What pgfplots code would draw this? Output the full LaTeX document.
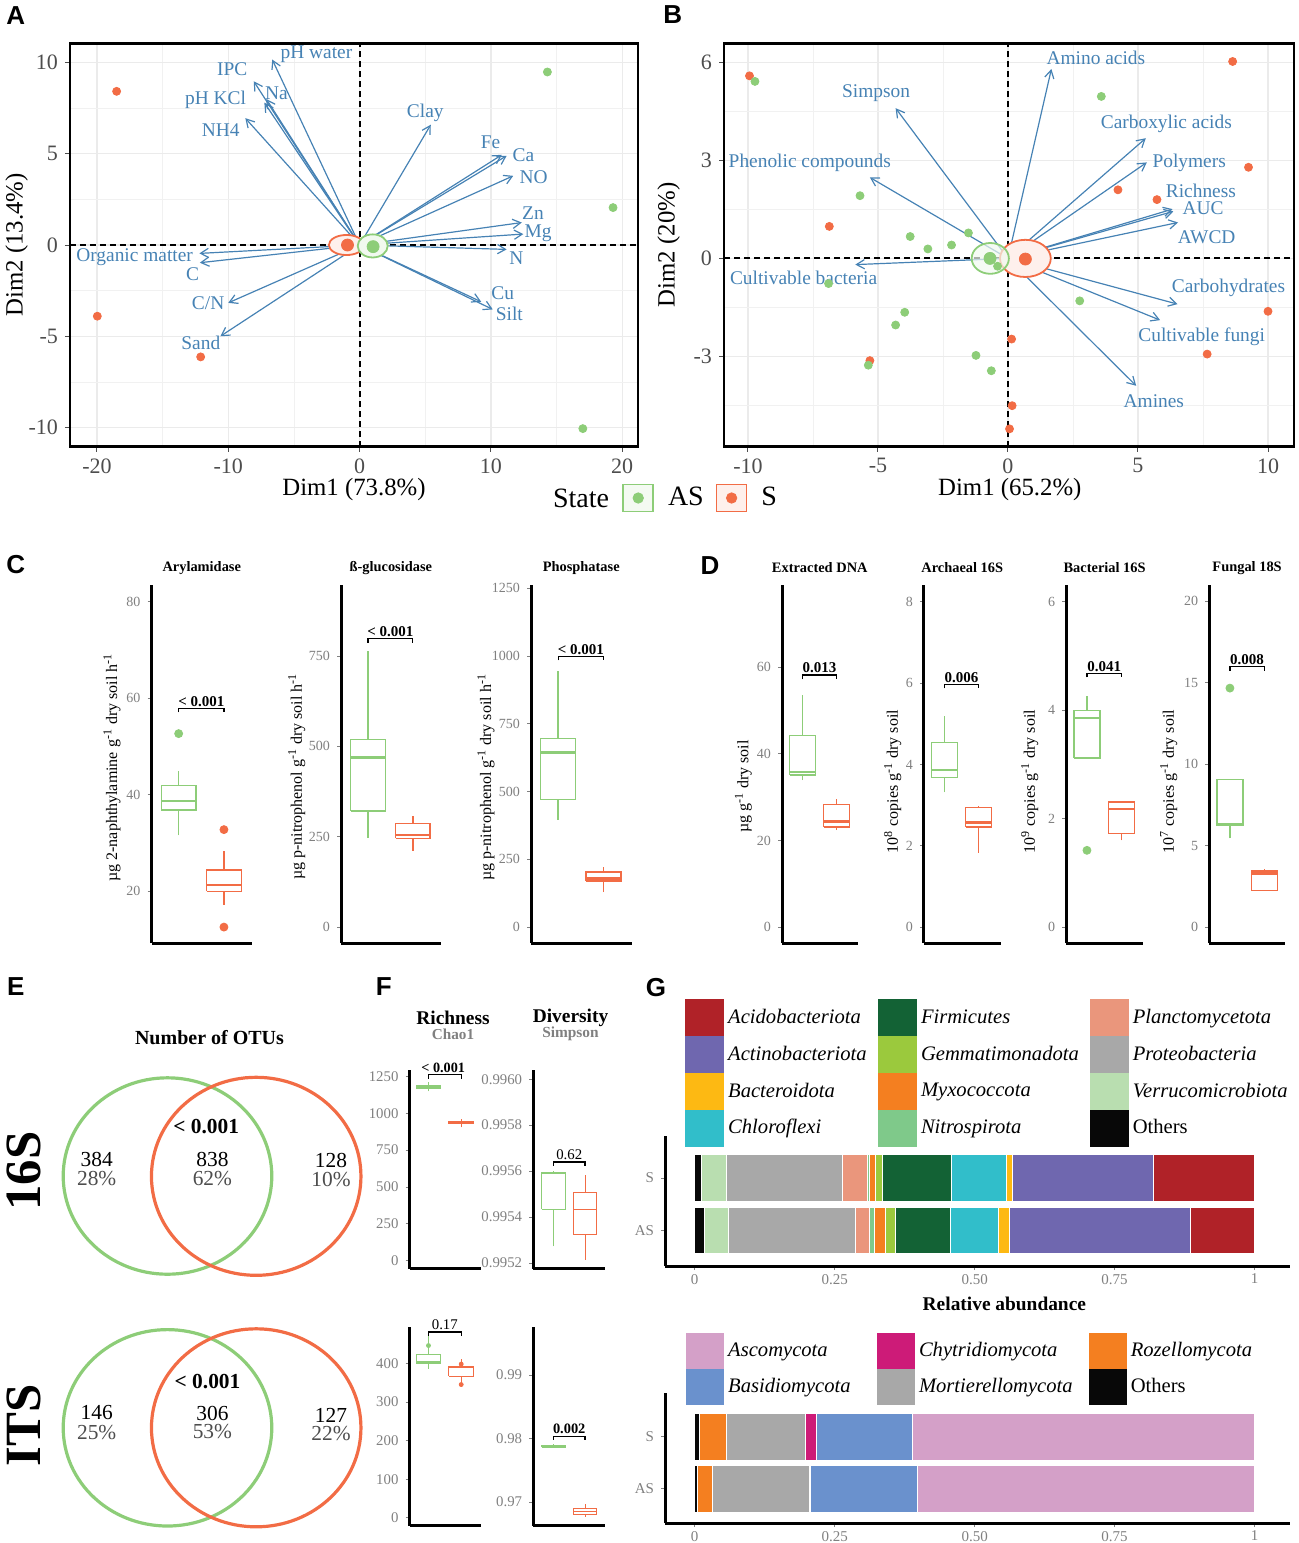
\documentclass[border=0pt]{standalone}
\usepackage{pgfplots}
\pgfplotsset{compat=1.18}
\usetikzlibrary{arrows.meta}
\usepackage{fontspec}
\setmainfont{Liberation Serif}
\newfontfamily\letterfont{Liberation Sans}
\newcommand{\fs}[1]{\fontsize{#1}{#1}\selectfont}

\definecolor{asgreen}{HTML}{8DCD78}
\definecolor{sorange}{HTML}{F26C45}
\definecolor{steel}{HTML}{4682B4}
\definecolor{grey30}{HTML}{4D4D4D}
\definecolor{grey50}{HTML}{808080}
\definecolor{gridc}{HTML}{EBEBEB}
% bacterial phyla
\definecolor{acido}{HTML}{B02228}
\definecolor{actino}{HTML}{6F67AF}
\definecolor{bactero}{HTML}{FDB913}
\definecolor{chloro}{HTML}{31BECA}
\definecolor{firmi}{HTML}{136235}
\definecolor{gemma}{HTML}{9BC93D}
\definecolor{myxo}{HTML}{F47F20}
\definecolor{nitro}{HTML}{7FC98A}
\definecolor{plancto}{HTML}{EA967C}
\definecolor{proteo}{HTML}{A8A8A8}
\definecolor{verruco}{HTML}{B9DEB0}
\definecolor{others}{HTML}{080808}
% fungal phyla
\definecolor{asco}{HTML}{D4A0C8}
\definecolor{basidio}{HTML}{6A91CD}
\definecolor{chytrid}{HTML}{CD1B78}
\definecolor{mortier}{HTML}{A8A8A8}
\definecolor{rozello}{HTML}{F47F20}

\newcommand{\sq}[1]{\addlegendimage{legend image code/.code={\fill[#1] (0pt,-9pt) rectangle (19pt,9pt);}}}
\newcommand{\sqb}[1]{\addlegendimage{legend image code/.code={\fill[#1] (0pt,-8.75pt) rectangle (18.5pt,8.75pt);}}}
% box: style, x left, x centre, x right, lower whisker, q1, median, q3, upper whisker
\newcommand{\bx}[9]{%
  \addplot[#1] coordinates {(#2,#6) (#4,#6) (#4,#8) (#2,#8) (#2,#6)};
  \addplot[#1, med] coordinates {(#2,#7) (#4,#7)};
  \addplot[#1] coordinates {(#3,#5) (#3,#6)};
  \addplot[#1] coordinates {(#3,#8) (#3,#9)};
}

\tikzset{
  lab/.style={text=steel, font=\fs{9.7}, inner sep=0pt},
  plab/.style={font=\bfseries\fs{7.5}, anchor=south, inner sep=0.8pt},
}

\pgfplotsset{
  pca/.style={scale only axis, anchor=south west, height=201.5pt, clip=false,
    axis line style={line width=1.4pt, black}, tick pos=left, tick align=outside,
    major tick length=2.5pt, minor tick length=0pt, tick style={grey30, line width=0.5pt},
    grid=both, major grid style={gridc, line width=0.6pt}, minor grid style={gridc!70, line width=0.3pt},
    tick label style={font=\fs{11}, text=grey30},
    label style={font=\fs{12.4}},
    xlabel style={at={(axis description cs:0.5,-0.108)}, anchor=center}},
  arr/.style={steel, line width=0.6pt, -{Straight Barb[length=4pt,width=4.6pt]}, forget plot},
  dash0/.style={black, line width=1pt, dash pattern=on 3pt off 2pt, forget plot},
  bpax/.style={scale only axis, anchor=south west, axis lines*=left, clip=false,
    axis line style={line width=1.5pt, black}, xtick=\empty, xmin=0.4, xmax=2.62,
    tick align=outside, major tick length=2pt, tick style={grey50, line width=0.4pt},
    yticklabel style={font=\fs{7}, text=grey50},
    title style={font=\bfseries\fs{7.2}, at={(axis description cs:0.5,1)}, anchor=center, yshift=2.5pt},
    ylabel style={font=\fs{8}, anchor=center},
    height=179pt},
  med/.style={line width=1.3pt},
  asl/.style={asgreen, line width=0.7pt, forget plot},
  sl/.style={sorange, line width=0.7pt, forget plot},
  aslf/.style={asgreen, line width=0.45pt, forget plot},
  slf/.style={sorange, line width=0.45pt, forget plot},
  asp/.style={only marks, mark=*, mark size=2pt, asgreen, forget plot},
  sp/.style={only marks, mark=*, mark size=2pt, sorange, forget plot},
  aspf/.style={only marks, mark=*, mark size=1pt, asgreen, forget plot},
  spf/.style={only marks, mark=*, mark size=1pt, sorange, forget plot},
  brk/.style={black, line width=0.6pt, forget plot},
  gax/.style={scale only axis, anchor=south west, width=312.5pt, height=65pt, xbar stacked,
    xmin=-0.0529, xmax=1.0632, axis lines*=left, axis line style={line width=1.5pt, black},
    ytick={1,2}, yticklabels={AS,S}, xtick={0,0.25,0.5,0.75,1}, xticklabels={0,0.25,0.50,0.75,1},
    tick align=outside, major tick length=2pt, tick style={grey50, line width=0.4pt},
    tick label style={font=\fs{7.5}, text=grey50}, xticklabel style={yshift=1.5pt},
    clip=false, legend cell align=left,
    legend columns=3,
    legend style={draw=none, fill=none, inner sep=0pt, row sep=0pt, column sep=0pt,
      font=\itshape\fs{10.3}, anchor=north west}},
  seg/.style={fill=#1, draw=white, line width=0.3pt, forget plot},
}

\begin{document}
\begin{tikzpicture}
\useasboundingbox (0pt,0pt) rectangle (649.5pt,-771.5pt);

% ---------- canvas for the Venn diagrams (E) ----------
\begin{axis}[at={(0pt,-771.5pt)}, anchor=south west, scale only axis, width=649.5pt, height=771.5pt,
  xmin=0, xmax=1299, ymin=-1543, ymax=0, hide axis, clip=false]
\addplot[only marks, mark=o, mark size=49.1pt, mark options={draw=asgreen, line width=1.6pt, xscale=1.062}]
  coordinates {(167.5,-1176) (167.5,-1427.8)};
\addplot[only marks, mark=o, mark size=49.5pt, mark options={draw=sorange, line width=1.6pt, xscale=1.058}]
  coordinates {(256.2,-1176.3) (256.2,-1427.8)};
\end{axis}

% ---------- A ----------
\begin{axis}[pca, at={(35pt,-223.25pt)}, width=284pt,
  xmin=-22.05, xmax=21.2, ymin=-11.04, ymax=11.04,
  xtick={-20,-10,0,10,20}, xticklabels={-20,-10,0,10,20},
  ytick={-10,-5,0,5,10}, yticklabels={-10,-5,0,5,10},
  minor xtick={-15,-5,5,15}, minor ytick={-7.5,-2.5,2.5,7.5},
  xlabel={Dim1 (73.8\%)}, ylabel={Dim2 (13.4\%)},
  ylabel style={at={(axis description cs:-0.094,0.5)}, anchor=center}]
\addplot[dash0] coordinates {(-22.05,0) (21.2,0)};
\addplot[dash0] coordinates {(0,-11.04) (0,11.04)};
\addplot[only marks, mark=*, mark size=8.8pt, mark options={yscale=0.57, draw=sorange, fill=sorange!10, line width=0.9pt}] coordinates {(-1,0)};
\addplot[only marks, mark=*, mark size=7.5pt, mark options={yscale=0.77, draw=asgreen, fill=asgreen!12, line width=0.9pt}] coordinates {(1,-0.05)};
\addplot[only marks, mark=*, mark size=2pt, sorange] coordinates {(-18.5,8.42) (-19.97,-3.9) (-12.1,-6.13)};
\addplot[only marks, mark=*, mark size=2pt, asgreen] coordinates {(14.3,9.48) (19.3,2.05) (17.0,-10.06)};
\addplot[only marks, mark=*, mark size=3pt, sorange] coordinates {(-0.92,0)};
\addplot[only marks, mark=*, mark size=3pt, asgreen] coordinates {(1.03,-0.09)};
\addplot[arr] coordinates {(0,0) (-6.65,10.16)};
\addplot[arr] coordinates {(0,0) (-8.06,8.97)};
\addplot[arr] coordinates {(0,0) (-7.1,8.0)};
\addplot[arr] coordinates {(0,0) (-7.25,7.8)};
\addplot[arr] coordinates {(0,0) (-8.7,6.95)};
\addplot[arr] coordinates {(0,0) (5.42,6.59)};
\addplot[arr] coordinates {(0,0) (10.83,4.94)};
\addplot[arr] coordinates {(0,0) (11.2,4.89)};
\addplot[arr] coordinates {(0,0) (11.7,3.79)};
\addplot[arr] coordinates {(0,0) (12.35,1.23)};
\addplot[arr] coordinates {(0,0) (12.47,0.6)};
\addplot[arr] coordinates {(0,0) (11.2,-0.24)};
\addplot[arr] coordinates {(0,0) (9.26,-3.11)};
\addplot[arr] coordinates {(0,0) (10.14,-3.53)};
\addplot[arr] coordinates {(0,0) (-12.2,-0.46)};
\addplot[arr] coordinates {(0,0) (-12.16,-0.97)};
\addplot[arr] coordinates {(0,0) (-10.0,-3.17)};
\addplot[arr] coordinates {(0,0) (-10.6,-5.0)};
\node[lab] at (axis cs:-3.28,10.43) {pH water};
\node[lab] at (axis cs:-9.7,9.61) {IPC};
\node[lab] at (axis cs:-6.33,8.33) {Na};
\node[lab] at (axis cs:-10.96,7.96) {pH KCl};
\node[lab] at (axis cs:-10.58,6.28) {NH4};
\node[lab] at (axis cs:5.0,7.23) {Clay};
\node[lab] at (axis cs:9.98,5.62) {Fe};
\node[lab] at (axis cs:12.47,4.94) {Ca};
\node[lab] at (axis cs:13.26,3.70) {NO};
\node[lab] at (axis cs:13.2,1.74) {Zn};
\node[lab] at (axis cs:13.6,0.64) {Mg};
\node[lab] at (axis cs:11.94,-0.73) {N};
\node[lab] at (axis cs:10.9,-2.62) {Cu};
\node[lab] at (axis cs:11.4,-3.75) {Silt};
\node[lab] at (axis cs:-17.13,-0.64) {Organic matter};
\node[lab] at (axis cs:-12.72,-1.59) {C};
\node[lab] at (axis cs:-11.53,-3.2) {C/N};
\node[lab] at (axis cs:-12.09,-5.36) {Sand};
\end{axis}

% ---------- B ----------
\begin{axis}[pca, at={(362pt,-223.25pt)}, width=285pt,
  xmin=-10.92, xmax=11.0, ymin=-5.76, ymax=6.58,
  xtick={-10,-5,0,5,10}, xticklabels={-10,-5,0,5,10},
  ytick={-3,0,3,6}, yticklabels={-3,0,3,6},
  minor xtick={-7.5,-2.5,2.5,7.5}, minor ytick={-4.5,-1.5,1.5,4.5},
  xlabel={Dim1 (65.2\%)}, ylabel={Dim2 (20\%)},
  xlabel style={at={(axis description cs:0.5014,-0.108)}},
  ylabel style={at={(axis description cs:-0.097,0.5)}, anchor=center},
  legend columns=2,
  legend style={at={(axis description cs:-0.1789,-0.1278)}, anchor=west, draw=none, fill=none,
    inner sep=0pt, font=\fs{14},
    /tikz/every odd column/.append style={column sep=5pt},
    /tikz/every even column/.append style={column sep=4pt}}]
\addplot[dash0] coordinates {(-10.92,0) (11.0,0)};
\addplot[dash0] coordinates {(0,-5.76) (0,6.58)};
\addplot[only marks, mark=*, mark size=12.7pt, mark options={yscale=0.732, draw=sorange, fill=sorange!10, line width=0.9pt}, forget plot] coordinates {(0.67,0)};
\addplot[only marks, mark=*, mark size=9.3pt, mark options={yscale=0.828, draw=asgreen, fill=asgreen!12, line width=0.9pt, fill opacity=0.7}, forget plot] coordinates {(-0.68,0)};
\addplot[only marks, mark=*, mark size=2pt, sorange, forget plot] coordinates {
(-9.94,5.59) (8.64,6.03) (9.25,2.79) (4.23,2.1) (5.73,1.8) (-6.87,0.98)
(10.0,-1.62) (7.66,-2.93) (0.14,-2.47) (-5.31,-3.13) (0.16,-4.51) (0.06,-5.22)};
\addplot[only marks, mark=*, mark size=2pt, asgreen, forget plot] coordinates {
(-9.73,5.42) (3.59,4.96) (-5.69,1.92) (-3.76,0.67) (-1.52,0.78) (-3.08,0.29) (-2.17,0.41)
(-6.9,-0.77) (2.76,-1.3) (-3.97,-1.65) (-4.32,-2.04) (-5.37,-3.27) (-1.23,-2.97) (-0.64,-3.44) (-0.4,-0.24)};
\addplot[only marks, mark=*, mark size=3pt, sorange, forget plot] coordinates {(0.67,-0.02)};
\addplot[only marks, mark=*, mark size=3pt, asgreen, forget plot] coordinates {(-0.69,0)};
\addplot[arr] coordinates {(0,0) (1.67,5.8)};
\addplot[arr] coordinates {(0,0) (-4.32,4.6)};
\addplot[arr] coordinates {(0,0) (-5.31,2.48)};
\addplot[arr] coordinates {(0,0) (5.3,3.68)};
\addplot[arr] coordinates {(0,0) (5.34,2.94)};
\addplot[arr] coordinates {(0,0) (6.33,1.51)};
\addplot[arr] coordinates {(0,0) (6.36,1.44)};
\addplot[arr] coordinates {(0,0) (6.54,1.1)};
\addplot[arr] coordinates {(0,0) (-5.87,-0.19)};
\addplot[arr] coordinates {(0,0) (6.52,-1.4)};
\addplot[arr] coordinates {(0,0) (5.85,-1.89)};
\addplot[arr] coordinates {(0,0) (4.93,-3.9)};
\node[lab] at (axis cs:3.38,6.13) {Amino acids};
\node[lab] at (axis cs:-5.07,5.05) {Simpson};
\node[lab] at (axis cs:-7.62,2.92) {Phenolic compounds};
\node[lab] at (axis cs:6.09,4.11) {Carboxylic acids};
\node[lab] at (axis cs:6.97,2.94) {Polymers};
\node[lab] at (axis cs:7.42,2.07) {Richness};
\node[lab] at (axis cs:7.5,1.54) {AUC};
\node[lab] at (axis cs:7.64,0.66) {AWCD};
\node[lab] at (axis cs:-7.86,-0.6) {Cultivable bacteria};
\node[lab] at (axis cs:8.48,-0.91) {Carbohydrates};
\node[lab] at (axis cs:7.45,-2.4) {Cultivable fungi};
\node[lab] at (axis cs:5.61,-4.36) {Amines};
\addlegendimage{legend image code/.code={\draw[asgreen, fill=asgreen!10, line width=0.8pt] (0pt,-6.75pt) rectangle (15pt,6.75pt); \fill[asgreen] (7.5pt,0pt) circle (2.6pt);}}
\addlegendentry{AS}
\addlegendimage{legend image code/.code={\draw[sorange, fill=sorange!10, line width=0.8pt] (0pt,-6.75pt) rectangle (15pt,6.75pt); \fill[sorange] (7.5pt,0pt) circle (2.6pt);}}
\addlegendentry{S}
\end{axis}

% ---------- C ----------
\begin{axis}[bpax, at={(75.75pt,-471.5pt)}, width=50.25pt, ymin=9.3, ymax=83.5,
  ytick={20,40,60,80}, yticklabels={20,40,60,80}, title={Arylamidase},
  ylabel={µg 2-naphthylamine g\textsuperscript{-1} dry soil h\textsuperscript{-1}},
  ylabel style={at={(axis description cs:-0.393,0.49)}}]
\bx{asl}{0.615}{1}{1.385}{31.6}{36.9}{38.7}{42.0}{44.9}
\addplot[asp] coordinates {(1,52.7)};
\bx{sl}{1.615}{2}{2.385}{17.25}{20.0}{21.3}{24.4}{28.4}
\addplot[sp] coordinates {(2,32.8) (2,12.6)};
\addplot[brk] coordinates {(1,57.1) (1,57.9) (2,57.9) (2,57.1)};
\node[plab] at (axis cs:1.5,57.9) {< 0.001};
\end{axis}

\begin{axis}[bpax, at={(170.5pt,-471.5pt)}, width=49.85pt, ymin=-44.3, ymax=946.7,
  ytick={0,250,500,750}, yticklabels={0,250,500,750}, title={ß-glucosidase},
  ylabel={µg p-nitrophenol g\textsuperscript{-1} dry soil h\textsuperscript{-1}},
  ylabel style={at={(axis description cs:-0.444,0.465)}}]
\bx{asl}{0.615}{1}{1.385}{247.5}{321}{469}{519}{765}
\bx{sl}{1.615}{2}{2.385}{210.6}{245}{255}{286}{306.6}
\addplot[brk] coordinates {(1,787) (1,798) (2,798) (2,787)};
\node[plab] at (axis cs:1.5,798) {< 0.001};
\end{axis}

\begin{axis}[bpax, at={(265.5pt,-471.5pt)}, width=50.25pt, ymin=-59, ymax=1262,
  ytick={0,250,500,750,1000,1250}, yticklabels={0,250,500,750,1000,1250}, title={Phosphatase},
  ylabel={µg p-nitrophenol g\textsuperscript{-1} dry soil h\textsuperscript{-1}},
  ylabel style={at={(axis description cs:-0.448,0.463)}}]
\bx{asl}{0.615}{1}{1.385}{396.5}{470}{643}{696}{945}
\bx{sl}{1.615}{2}{2.385}{129}{170}{180}{203}{222}
\addplot[brk] coordinates {(1,984) (1,999) (2,999) (2,984)};
\node[plab] at (axis cs:1.5,999) {< 0.001};
\end{axis}

% ---------- D ----------
\begin{axis}[bpax, at={(391pt,-471.5pt)}, width=37.75pt, xmax=2.61, ymin=-3.7, ymax=79.0,
  ytick={0,20,40,60}, yticklabels={0,20,40,60}, title={Extracted DNA},
  ylabel={µg g\textsuperscript{-1} dry soil},
  ylabel style={at={(axis description cs:-0.511,0.437)}}]
\bx{asl}{0.62}{1}{1.38}{33.9}{35.1}{35.8}{44.3}{53.7}
\bx{sl}{1.62}{2}{2.38}{22.4}{23.1}{24.4}{28.3}{29.5}
\addplot[brk] coordinates {(1,57.2) (1,58.2) (2,58.2) (2,57.2)};
\node[plab] at (axis cs:1.5,58.2) {0.013};
\end{axis}

\begin{axis}[bpax, at={(461.95pt,-471.5pt)}, width=38.35pt, xmax=2.64, ymin=-0.39, ymax=8.41,
  ytick={0,2,4,6,8}, yticklabels={0,2,4,6,8}, title={Archaeal 16S},
  ylabel={10\textsuperscript{8} copies g\textsuperscript{-1} dry soil},
  ylabel style={at={(axis description cs:-0.407,0.451)}}]
\bx{asl}{0.62}{1}{1.38}{3.31}{3.68}{3.86}{4.54}{5.19}
\bx{sl}{1.62}{2}{2.38}{1.83}{2.46}{2.57}{2.94}{2.99}
\addplot[brk] coordinates {(1,5.87) (1,5.97) (2,5.97) (2,5.87)};
\node[plab] at (axis cs:1.5,5.97) {0.006};
\end{axis}

\begin{axis}[bpax, at={(533.1pt,-471.5pt)}, width=38.4pt, xmax=2.62, ymin=-0.295, ymax=6.31,
  ytick={0,2,4,6}, yticklabels={0,2,4,6}, title={Bacterial 16S},
  ylabel={10\textsuperscript{9} copies g\textsuperscript{-1} dry soil},
  ylabel style={at={(axis description cs:-0.475,0.451)}}]
\bx{asl}{0.62}{1}{1.38}{3.12}{3.12}{3.86}{4.0}{4.26}
\addplot[asp] coordinates {(1,1.415)};
\bx{sl}{1.62}{2}{2.38}{1.6}{1.72}{2.18}{2.31}{2.31}
\addplot[brk] coordinates {(1,4.605) (1,4.68) (2,4.68) (2,4.605)};
\node[plab] at (axis cs:1.5,4.68) {0.041};
\end{axis}

\begin{axis}[bpax, at={(604.65pt,-471.5pt)}, width=37.8pt, xmax=2.6, ymin=-0.98, ymax=21.0,
  ytick={0,5,10,15,20}, yticklabels={0,5,10,15,20}, title={Fungal 18S},
  ylabel={10\textsuperscript{7} copies g\textsuperscript{-1} dry soil},
  ylabel style={at={(axis description cs:-0.537,0.451)}}]
\bx{asl}{0.62}{1}{1.38}{5.44}{6.22}{6.32}{9.07}{9.07}
\addplot[asp] coordinates {(1,14.67)};
\bx{sl}{1.62}{2}{2.38}{2.26}{2.26}{3.28}{3.43}{3.59}
\addplot[brk] coordinates {(1,15.75) (1,16.0) (2,16.0) (2,15.75)};
\node[plab] at (axis cs:1.5,16.0) {0.008};
\end{axis}

% ---------- F ----------
\begin{axis}[bpax, at={(204.75pt,-634.25pt)}, width=35.5pt, height=99.25pt, xmin=0.42, xmax=2.59,
  ymin=-55, ymax=1295, ytick={0,250,500,750,1000,1250}, yticklabels={0,250,500,750,1000,1250},
  yticklabel style={font=\fs{7.4}}, med/.style={line width=0.8pt}]
\bx{aslf}{0.625}{1}{1.375}{1150}{1170}{1180}{1187}{1212}
\bx{slf}{1.625}{2}{2.375}{905}{930}{937}{945}{962}
\addplot[brk] coordinates {(1,1235) (1,1262) (2,1262) (2,1235)};
\node[font=\bfseries\fs{7.1}, anchor=south, inner sep=0.8pt] at (axis cs:1.45,1262) {< 0.001};
\end{axis}

\begin{axis}[bpax, at={(266.6pt,-634.25pt)}, width=35.7pt, height=99.25pt, xmin=0.36, xmax=2.62,
  ymin=0.995176, ymax=0.99604, ytick={0.9952,0.9954,0.9956,0.9958,0.9960},
  yticklabels={0.9952,0.9954,0.9956,0.9958,0.9960},
  yticklabel style={font=\fs{7.4}}, med/.style={line width=0.6pt}]
\bx{aslf}{0.625}{1}{1.375}{0.995272}{0.995435}{0.99559}{0.995595}{0.995602}
\bx{slf}{1.625}{2}{2.375}{0.995214}{0.995323}{0.995432}{0.995507}{0.995582}
\addplot[brk] coordinates {(1,0.995623) (1,0.99564) (2,0.99564) (2,0.995623)};
\node[font=\fs{7.4}, anchor=south, inner sep=0.8pt] at (axis cs:1.5,0.99564) {0.62};
\end{axis}

\begin{axis}[bpax, at={(204.75pt,-762.95pt)}, width=35.5pt, height=99.65pt, xmin=0.42, xmax=2.59,
  ymin=-21, ymax=495, ytick={0,100,200,300,400}, yticklabels={0,100,200,300,400},
  yticklabel style={font=\fs{7.4}}, med/.style={line width=0.8pt}]
\bx{aslf}{0.625}{1}{1.375}{386}{400}{403}{424}{470}
\addplot[aspf] coordinates {(1,446)};
\bx{slf}{1.625}{2}{2.375}{343}{367}{389}{393}{411}
\addplot[spf] coordinates {(2,398) (2,345)};
\addplot[brk] coordinates {(1,471) (1,481) (2,481) (2,471)};
\node[font=\fs{7.4}, anchor=south, inner sep=0.8pt] at (axis cs:1.5,481) {0.17};
\end{axis}

\begin{axis}[bpax, at={(266.6pt,-762.95pt)}, width=35.7pt, height=99.65pt, xmin=0.36, xmax=2.62,
  ymin=0.96623, ymax=0.99765, ytick={0.97,0.98,0.99}, yticklabels={0.97,0.98,0.99},
  yticklabel style={font=\fs{7.4}}, med/.style={line width=0.8pt}]
\bx{aslf}{0.625}{1}{1.375}{0.97855}{0.97864}{0.97881}{0.97899}{0.97910}
\bx{slf}{1.625}{2}{2.375}{0.96768}{0.96809}{0.96849}{0.96896}{0.96971}
\addplot[brk] coordinates {(1,0.97978) (1,0.98038) (2,0.98038) (2,0.97978)};
\node[font=\bfseries\fs{7.2}, anchor=south, inner sep=0.8pt] at (axis cs:1.5,0.98038) {0.002};
\end{axis}

% ---------- G (bacteria) ----------
\begin{axis}[gax, at={(332.5pt,-633pt)}, ymin=0.324, ymax=2.8, bar width=0.886,
  xlabel={Relative abundance},
  xlabel style={font=\bfseries\fs{9.7}, at={(axis description cs:0.543,0)}, anchor=center, yshift=-19pt},
  legend style={at={(axis description cs:0.032,2.054)}}]
\addplot[seg=others]  coordinates {(0.0128,2) (0.0173,1)};
\addplot[seg=verruco] coordinates {(0.0435,2) (0.0420,1)};
\addplot[seg=proteo]  coordinates {(0.2070,2) (0.2273,1)};
\addplot[seg=plancto] coordinates {(0.0443,2) (0.0247,1)};
\addplot[seg=nitro]   coordinates {(0.0052,2) (0.0090,1)};
\addplot[seg=myxo]    coordinates {(0.0098,2) (0.0195,1)};
\addplot[seg=gemma]   coordinates {(0.0127,2) (0.0180,1)};
\addplot[seg=firmi]   coordinates {(0.1223,2) (0.0983,1)};
\addplot[seg=chloro]  coordinates {(0.0990,2) (0.0870,1)};
\addplot[seg=bactero] coordinates {(0.0113,2) (0.0195,1)};
\addplot[seg=actino]  coordinates {(0.2513,2) (0.3226,1)};
\addplot[seg=acido]   coordinates {(0.1808,2) (0.1148,1)};
\sq{acido}\addlegendentry{\makebox[73pt][l]{Acidobacteriota}}
\sq{firmi}\addlegendentry{\makebox[82.5pt][l]{Firmicutes}}
\sq{plancto}\addlegendentry{Planctomycetota}
\sq{actino}\addlegendentry{\makebox[73pt][l]{Actinobacteriota}}
\sq{gemma}\addlegendentry{\makebox[82.5pt][l]{Gemmatimonadota}}
\sq{proteo}\addlegendentry{Proteobacteria}
\sq{bactero}\addlegendentry{\makebox[73pt][l]{Bacteroidota}}
\sq{myxo}\addlegendentry{\makebox[82.5pt][l]{Myxococcota}}
\sq{verruco}\addlegendentry{Verrucomicrobiota}
\sq{chloro}\addlegendentry{\makebox[73pt][l]{Chloroflexi}}
\sq{nitro}\addlegendentry{\makebox[82.5pt][l]{Nitrospirota}}
\sq{others}\addlegendentry{\textup{Others}}
\end{axis}

% ---------- G (fungi) ----------
\begin{axis}[gax, at={(332.5pt,-761.5pt)}, ymin=0.337, ymax=2.84, bar width=0.9,
  legend style={at={(axis description cs:0.0336,1.4615)}}]
\addplot[seg=others]  coordinates {(0.0075,2) (0.0045,1)};
\addplot[seg=rozello] coordinates {(0.0487,2) (0.0270,1)};
\addplot[seg=mortier] coordinates {(0.1423,2) (0.1737,1)};
\addplot[seg=chytrid] coordinates {(0.0180,2) (0.0015,1)};
\addplot[seg=basidio] coordinates {(0.1730,2) (0.1903,1)};
\addplot[seg=asco]    coordinates {(0.6105,2) (0.6030,1)};
\sqb{asco}\addlegendentry{\makebox[72.5pt][l]{Ascomycota}}
\sqb{chytrid}\addlegendentry{\makebox[83pt][l]{Chytridiomycota}}
\sqb{rozello}\addlegendentry{Rozellomycota}
\sqb{basidio}\addlegendentry{\makebox[72.5pt][l]{Basidiomycota}}
\sqb{mortier}\addlegendentry{\makebox[83pt][l]{Mortierellomycota}}
\sqb{others}\addlegendentry{\textup{Others}}
\end{axis}

% ---------- free text (pixel units) ----------
\begin{scope}[x=0.5pt, y=0.5pt, every node/.style={inner sep=0pt}]
\node[font=\letterfont\bfseries\fs{13}] at (15.8,-16) {A};
\node[font=\letterfont\bfseries\fs{13}] at (672.8,-15) {B};
\node[font=\letterfont\bfseries\fs{13}] at (15.8,-565) {C};
\node[font=\letterfont\bfseries\fs{13}] at (710,-566) {D};
\node[font=\letterfont\bfseries\fs{13}] at (15.8,-987) {E};
\node[font=\letterfont\bfseries\fs{13}] at (383.8,-987) {F};
\node[font=\letterfont\bfseries\fs{13}] at (656,-988) {G};
\node[font=\fs{14}] at (581,-498) {State};
% Venn texts
\node[font=\bfseries\fs{10}] at (209.5,-1038) {Number of OTUs};
\node[font=\bfseries\fs{25.4}, rotate=90] at (24,-1171) {16S};
\node[font=\bfseries\fs{25.4}, rotate=90] at (24,-1425.5) {ITS};
\node[font=\bfseries\fs{10.7}] at (206.2,-1126.2) {< 0.001};
\node[font=\fs{10.7}] at (96.7,-1159.3) {384};
\node[font=\fs{10.7}, text=grey30] at (96.7,-1178.8) {28\%};
\node[font=\fs{10.7}] at (212.4,-1159.3) {838};
\node[font=\fs{10.7}, text=grey30] at (212.4,-1178.8) {62\%};
\node[font=\fs{10.7}] at (331,-1160.4) {128};
\node[font=\fs{10.7}, text=grey30] at (331,-1179.6) {10\%};
\node[font=\bfseries\fs{10.7}] at (207.5,-1381.8) {< 0.001};
\node[font=\fs{10.7}] at (96.7,-1413) {146};
\node[font=\fs{10.7}, text=grey30] at (96.7,-1432.1) {25\%};
\node[font=\fs{10.7}] at (212.4,-1413) {306};
\node[font=\fs{10.7}, text=grey30] at (212.4,-1432) {53\%};
\node[font=\fs{10.7}] at (331,-1414.9) {127};
\node[font=\fs{10.7}, text=grey30] at (331,-1434) {22\%};
% F titles
\node[font=\bfseries\fs{9.7}] at (453,-1018) {Richness};
\node[font=\bfseries\fs{7.6}, text=grey50] at (453,-1034) {Chao1};
\node[font=\bfseries\fs{9.7}] at (570.5,-1018) {Diversity};
\node[font=\bfseries\fs{7.7}, text=grey50] at (570.5,-1034) {Simpson};
\end{scope}
\end{tikzpicture}
\end{document}
